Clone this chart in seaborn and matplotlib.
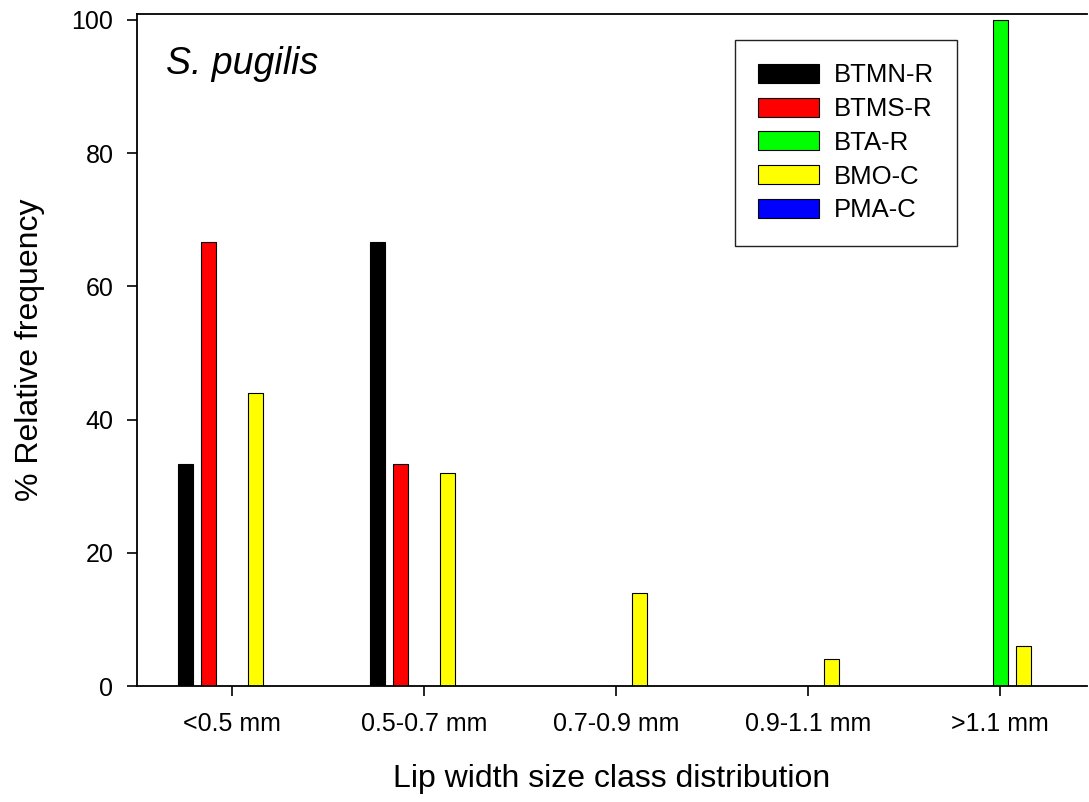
import matplotlib
matplotlib.use("Agg")
import matplotlib.pyplot as plt
import seaborn as sns
import pandas as pd

categories = ["<0.5 mm", "0.5-0.7 mm", "0.7-0.9 mm", "0.9-1.1 mm", ">1.1 mm"]
sites = ["BTMN-R", "BTMS-R", "BTA-R", "BMO-C", "PMA-C"]
btmn_r = [33.3, 66.7, 0, 0, 0]
btms_r = [66.7, 33.3, 0, 0, 0]
bta_r = [0, 0, 0, 0, 100]
bmo_c = [44, 32, 14, 4, 6]
pma_c = [0, 0, 0, 0, 0]
colors = ["#000000", "#FF0000", "#00FF00", "#FFFF00", "#0000FF"]
yticks = [0, 20, 40, 60, 80, 100]

series = [btmn_r, btms_r, bta_r, bmo_c, pma_c]
rows = []
for s, vals in zip(sites, series):
    for c, v in zip(categories, vals):
        rows.append({"size": c, "freq": v, "site": s})
df = pd.DataFrame(rows)

sns.set_style("white")
plt.rcParams["font.family"] = ["Liberation Sans", "DejaVu Sans"]
plt.rcParams["text.color"] = "black"
plt.rcParams["axes.labelcolor"] = "black"
plt.rcParams["xtick.color"] = "black"
plt.rcParams["ytick.color"] = "black"

fig = plt.figure(figsize=(10.89, 8.02), dpi=100)
ax = fig.add_axes([137 / 1089, 116 / 802, 950 / 1089, 672 / 802])

sns.barplot(data=df, x="size", y="freq", hue="site", order=categories,
            hue_order=sites, palette=colors, width=0.605, gap=0.355,
            edgecolor="black", linewidth=0.8, saturation=1, ax=ax,
            errorbar=None)

ax.set_xlim(-0.495, 4.453)
ax.set_ylim(0, 100.9)
ax.set_yticks(yticks)
ax.set_xlabel("Lip width size class distribution", fontsize=23, labelpad=20)
ax.set_ylabel("% Relative frequency", fontsize=23, labelpad=19)
ax.tick_params(axis="both", which="both", direction="out", length=7, width=1.2,
               labelsize=18, color="black", labelcolor="black", bottom=True,
               left=True, top=False, right=False)
ax.tick_params(axis="x", pad=12)
ax.tick_params(axis="y", pad=10)
for side in ["left", "bottom", "top"]:
    ax.spines[side].set_visible(True)
    ax.spines[side].set_color("black")
    ax.spines[side].set_linewidth(1.3)
ax.spines["right"].set_visible(False)

ax.text(0.03, 0.926, "S. pugilis", transform=ax.transAxes, fontsize=27,
        style="italic", va="center", ha="left", color="black")

handles, labels = ax.get_legend_handles_labels()
leg = ax.legend(handles, labels, loc="upper left",
                bbox_to_anchor=((735 - 137) / 950, 0.961), borderaxespad=0,
                fontsize=18.5, frameon=True, fancybox=False, framealpha=1,
                edgecolor="#222222", handlelength=2.35, handleheight=0.75,
                handletextpad=0.6, labelspacing=0.38, borderpad=0.9,
                title=None)
leg.get_frame().set_linewidth(1.0)
for t in leg.get_texts():
    t.set_color("black")

fig.savefig("out.png", dpi=100)
